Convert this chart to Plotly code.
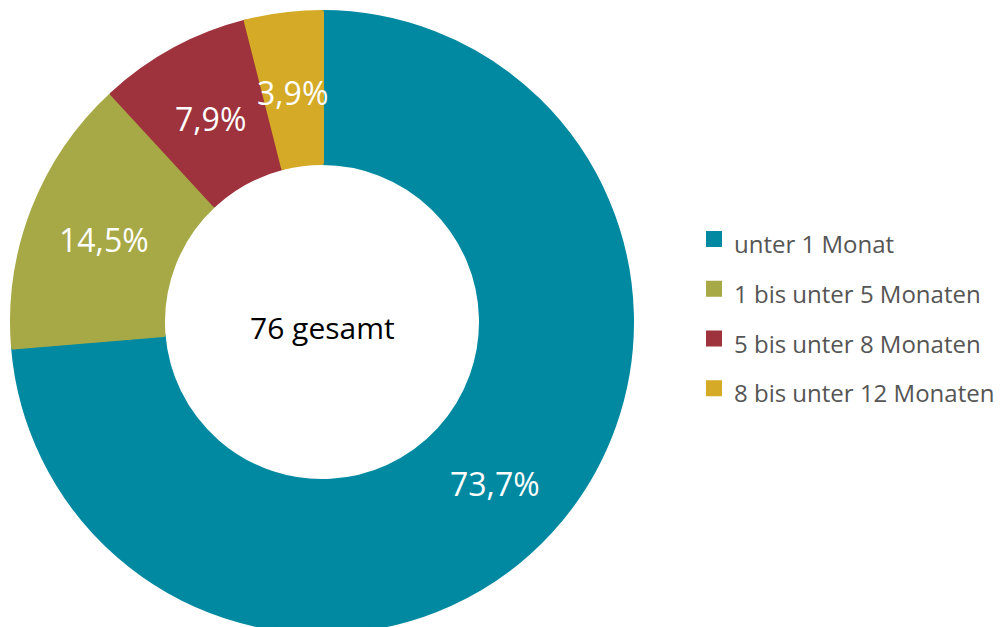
import math
import plotly.graph_objects as go

labels = ["unter 1 Monat", "1 bis unter 5 Monaten", "5 bis unter 8 Monaten", "8 bis unter 12 Monaten"]
values = [56, 11, 6, 3]
colors = ["#0089A0", "#A7A846", "#9E323D", "#D4AA27"]
center_text = "76 gesamt"

W, H = 997, 636
ML, MT, MB = 2, 2, 10
PW, PH = W - ML, H - MT - MB   # 995 x 624
OFF = 8  # page body margin

# pie geometry (page pixels)
CX, CY = 322, 322
R_OUT, R_IN = 312, 157
LINE_W = 4
R_DOM = R_OUT - LINE_W / 2

def px_x(page_x):
    return (page_x - OFF - ML) / PW

def px_y(page_y):
    return (OFF + MT + PH - page_y) / PH

legend_labels = ["<span style='font-size:24px'>%s</span>" % l for l in labels]

fig = go.Figure(go.Pie(
    labels=legend_labels,
    values=values,
    sort=False,
    direction="clockwise",
    rotation=0,
    hole=(R_IN + LINE_W / 2) / R_DOM,
    marker=dict(colors=colors, line=dict(width=LINE_W, color=colors)),
    textinfo="none",
    hoverinfo="label+percent",
    domain=dict(x=[px_x(CX - R_DOM), px_x(CX + R_DOM)],
                y=[px_y(CY + R_DOM), px_y(CY - R_DOM)]),
))

# slice labels at the middle of each ring segment, derived from the values
total = sum(values)
r_mid = (R_OUT + R_IN) / 2
annotations = []
cum = 0
for v in values:
    mid = (cum + v / 2) / total * 2 * math.pi
    cum += v
    x = CX + r_mid * math.sin(mid)
    y = CY - r_mid * math.cos(mid) + 3
    txt = ("%.1f%%" % (v / total * 100)).replace(".", ",")
    annotations.append(dict(
        text=txt, x=px_x(x), y=px_y(y), xref="paper", yref="paper",
        xanchor="center", yanchor="middle", showarrow=False,
        font=dict(size=32, color="white", family="Open Sans"),
    ))

annotations.append(dict(
    text=center_text, x=px_x(CX), y=px_y(CY + 5), xref="paper", yref="paper",
    xanchor="center", yanchor="middle", showarrow=False,
    font=dict(size=30, color="black", family="Open Sans"),
))

fig.update_layout(
    width=W, height=H,
    margin=dict(l=ML, r=0, t=MT, b=MB),
    paper_bgcolor="white",
    plot_bgcolor="white",
    separators=",.",
    font=dict(family="Open Sans", color="#555555"),
    showlegend=True,
    legend=dict(
        x=px_x(694), xanchor="left",
        y=px_y(209), yanchor="top",
        font=dict(size=36, color="#555555", family="Open Sans"),
        bgcolor="rgba(0,0,0,0)",
        traceorder="normal",
    ),
    annotations=annotations,
)

fig.write_html("out.html")
